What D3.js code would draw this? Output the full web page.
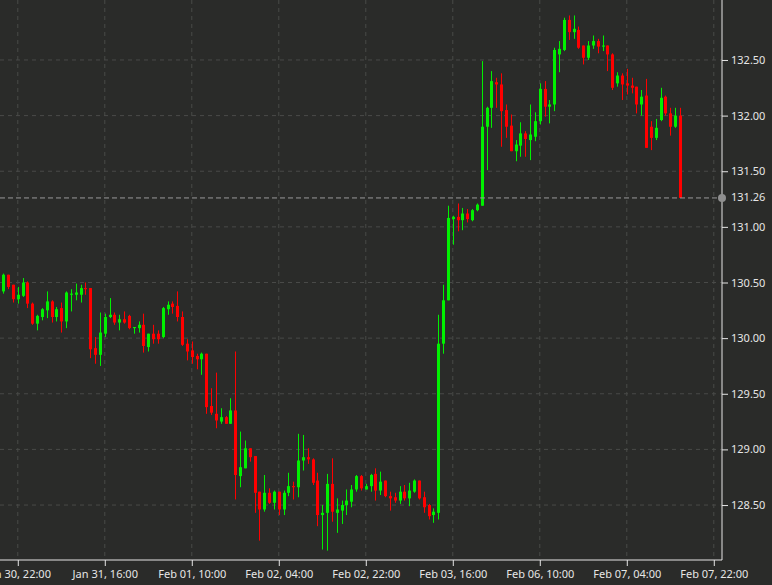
<!DOCTYPE html>
<html><head><meta charset="utf-8">
<script src="https://cdn.jsdelivr.net/npm/d3@7"></script>
<style>html,body{margin:0;padding:0;background:#2a2b29;}svg{display:block;}</style>
</head><body>
<svg id="chart" width="772" height="585"></svg>
<script>
const open = [130.42,130.57,130.48,130.35,130.38,130.50,130.31,130.13,130.19,130.25,130.33,130.19,130.27,130.15,130.39,130.39,130.39,130.45,130.45,129.91,129.85,130.04,130.19,130.21,130.14,130.17,130.20,130.09,130.09,130.12,129.92,130.04,130.04,130.01,130.26,130.31,130.29,130.19,129.95,129.89,129.84,129.81,129.86,129.39,129.32,129.25,129.29,129.23,129.35,128.76,128.83,129.01,128.94,128.62,128.46,128.61,128.52,128.62,128.46,128.61,128.67,128.66,128.90,128.93,128.91,128.72,128.41,128.43,128.69,128.43,128.45,128.50,128.53,128.64,128.76,128.64,128.67,128.78,128.63,128.72,128.58,128.57,128.54,128.62,128.56,128.62,128.72,128.57,128.50,128.41,128.43,129.95,130.34,131.07,131.09,131.06,131.12,131.06,131.15,131.19,131.90,132.07,132.30,132.28,132.05,131.91,131.68,131.73,131.84,131.78,131.81,131.95,132.24,132.08,132.10,132.55,132.59,132.86,132.75,132.77,132.63,132.52,132.63,132.67,132.62,132.63,132.55,132.29,132.36,132.29,132.27,132.26,132.10,132.18,131.90,131.80,131.96,132.17,132.02,131.90,132.00];
const high = [130.58,130.57,130.48,130.46,130.54,130.51,130.32,130.21,130.27,130.42,130.34,130.28,130.32,130.42,130.44,130.49,130.48,130.50,130.45,130.01,130.23,130.22,130.36,130.23,130.21,130.24,130.21,130.10,130.15,130.22,130.04,130.12,130.07,130.28,130.33,130.33,130.42,130.24,129.99,129.97,129.86,129.87,129.86,129.55,129.69,129.37,129.30,129.46,129.88,129.16,129.08,129.01,128.94,128.62,128.77,128.65,128.63,128.62,128.63,128.79,128.71,129.14,129.13,129.01,128.92,128.79,128.50,128.78,128.92,128.56,128.54,128.64,128.68,128.77,128.77,128.69,128.78,128.83,128.80,128.72,128.62,128.61,128.67,128.68,128.70,128.73,128.72,128.62,128.51,128.47,130.21,130.48,131.19,131.10,131.21,131.17,131.16,131.16,131.21,132.49,132.08,132.40,132.34,132.38,132.10,132.01,131.78,131.94,131.86,132.10,132.03,132.29,132.31,132.14,132.61,132.67,132.88,132.90,132.90,132.80,132.63,132.67,132.72,132.69,132.72,132.63,132.56,132.39,132.38,132.42,132.34,132.26,132.23,132.33,131.95,131.97,132.25,132.18,132.07,132.07,132.07];
const low = [130.40,130.44,130.32,130.31,130.37,130.27,130.12,130.07,130.16,130.18,130.14,130.15,130.05,130.09,130.24,130.34,130.32,130.39,129.82,129.77,129.75,130.01,130.18,130.12,130.07,130.13,130.08,130.04,130.05,129.87,129.88,129.95,129.95,130.00,130.21,130.22,130.15,129.93,129.80,129.77,129.72,129.67,129.32,129.31,129.19,129.23,129.23,129.23,128.55,128.66,128.83,128.89,128.43,128.18,128.44,128.51,128.46,128.41,128.41,128.58,128.55,128.57,128.81,128.87,128.68,128.31,128.10,128.09,128.35,128.25,128.33,128.41,128.48,128.62,128.63,128.64,128.62,128.54,128.59,128.57,128.45,128.52,128.51,128.54,128.49,128.61,128.55,128.43,128.37,128.34,128.37,129.86,130.34,130.84,130.96,130.97,131.04,131.05,131.14,131.19,131.51,131.89,132.07,131.72,131.80,131.68,131.59,131.63,131.63,131.60,131.77,131.92,131.99,131.93,132.04,132.39,132.58,132.68,132.69,132.60,132.46,132.50,132.60,132.56,132.58,132.40,132.23,132.26,132.14,132.19,132.20,132.02,132.00,131.71,131.69,131.78,131.95,132.00,131.82,131.89,131.26];
const close = [130.57,130.46,130.35,130.39,130.50,130.31,130.13,130.20,130.26,130.33,130.19,130.26,130.15,130.41,130.40,130.41,130.45,130.44,129.90,129.85,130.05,130.19,130.21,130.14,130.17,130.14,130.09,130.10,130.12,129.93,130.04,129.99,129.99,130.27,130.30,130.28,130.19,129.94,129.88,129.83,129.81,129.86,129.38,129.33,129.26,129.29,129.23,129.35,128.77,128.84,129.01,128.93,128.61,128.46,128.61,128.52,128.62,128.46,128.61,128.67,128.66,128.90,128.93,128.91,128.70,128.41,128.43,128.69,128.44,128.46,128.50,128.54,128.64,128.76,128.65,128.67,128.77,128.63,128.71,128.58,128.56,128.54,128.62,128.56,128.63,128.72,128.56,128.48,128.40,128.44,129.95,130.34,131.08,131.09,131.06,131.12,131.07,131.15,131.20,131.90,132.07,132.31,132.28,132.04,131.90,131.68,131.74,131.84,131.79,131.83,131.95,132.24,132.08,132.10,132.59,132.60,132.86,132.75,132.78,132.61,132.52,132.63,132.67,132.62,132.63,132.55,132.25,132.36,132.28,132.27,132.25,132.10,132.17,131.71,131.80,131.89,132.16,132.02,131.90,132.00,131.26];

// x tick positions (candle index, hourly bars, weekend removed) and their labels
const xTickIndex = [3, 21, 39, 57, 75, 93, 111, 129, 147];
const xTickLabels = ["Jan 30, 22:00","Jan 31, 16:00","Feb 01, 10:00","Feb 02, 04:00","Feb 02, 22:00","Feb 03, 16:00","Feb 06, 10:00","Feb 07, 04:00","Feb 07, 22:00"];
const yTicks = [128.5,129.0,129.5,130.0,130.5,131.0,131.5,132.0,132.5];
const lastPrice = 131.26;

const W = 772, H = 585;
const plotR = 722, plotB = 560;
const svg = d3.select("#chart");
svg.append("rect").attr("width", W).attr("height", H).attr("fill", "#2a2b29");

const x = d3.scaleLinear().domain([-0.68, 148.7]).range([0, plotR]);
const y = d3.scaleLinear().domain([128.006, 133.039]).range([plotB, 0]);

const gridColor = "#494a48";
const grid = svg.append("g");
grid.selectAll("line.v").data(xTickIndex).join("line")
  .attr("x1", d => x(d)).attr("x2", d => x(d)).attr("y1", 0).attr("y2", plotB)
  .attr("stroke", gridColor).attr("stroke-dasharray", "4,4");
grid.selectAll("line.h").data(yTicks).join("line")
  .attr("x1", 0).attr("x2", plotR).attr("y1", d => y(d)).attr("y2", d => y(d))
  .attr("stroke", gridColor).attr("stroke-dasharray", "4,4");

const data = open.map((o, i) => ({i, o, h: high[i], l: low[i], c: close[i]}));
const up = "#00f000", dn = "#ff0000";
const cg = svg.append("g");
cg.selectAll("line").data(data).join("line")
  .attr("x1", d => Math.round(x(d.i)) + 0.5).attr("x2", d => Math.round(x(d.i)) + 0.5)
  .attr("y1", d => y(d.h)).attr("y2", d => y(d.l))
  .attr("stroke", d => d.c >= d.o ? up : dn).attr("stroke-width", 1);
cg.selectAll("rect").data(data).join("rect")
  .attr("x", d => Math.round(x(d.i)) - 1)
  .attr("width", 3)
  .attr("y", d => y(Math.max(d.o, d.c)))
  .attr("height", d => Math.max(1, Math.abs(y(d.o) - y(d.c))))
  .attr("fill", d => d.c >= d.o ? up : dn);

// last price line
svg.append("line").attr("x1", 0).attr("x2", plotR)
  .attr("y1", y(lastPrice)).attr("y2", y(lastPrice))
  .attr("stroke", "#9a9a9a").attr("stroke-dasharray", "5,3");

const font = "'Noto Sans', sans-serif";
const fs = "11px";
const axColor = "#e6e6e6";
const yAxis = svg.append("g").attr("transform", `translate(${plotR},0)`)
  .call(d3.axisRight(y).tickValues(yTicks).tickFormat(d3.format(".2f")).tickSize(6).tickSizeOuter(0).tickPadding(3));
const xAxis = svg.append("g").attr("transform", `translate(0,${plotB})`)
  .call(d3.axisBottom(x).tickValues(xTickIndex).tickFormat((d, k) => xTickLabels[k]).tickSize(6).tickSizeOuter(0).tickPadding(4));
[yAxis, xAxis].forEach(g => {
  g.select(".domain").attr("stroke", axColor);
  g.selectAll(".tick line").attr("stroke", axColor);
  g.selectAll(".tick text").attr("fill", axColor).style("font-family", font).style("font-size", fs);
});
yAxis.select(".domain").attr("d", `M0,0V${plotB}`);
xAxis.select(".domain").attr("d", `M0,0H${plotR}`);

svg.append("circle").attr("cx", plotR).attr("cy", y(lastPrice)).attr("r", 4).attr("fill", "#8f8f8f");
svg.append("text").attr("x", plotR + 9).attr("y", y(lastPrice)).attr("dy", "0.32em")
  .attr("fill", axColor).style("font-family", font).style("font-size", fs)
  .text(d3.format(".2f")(lastPrice));
</script>
</body></html>
